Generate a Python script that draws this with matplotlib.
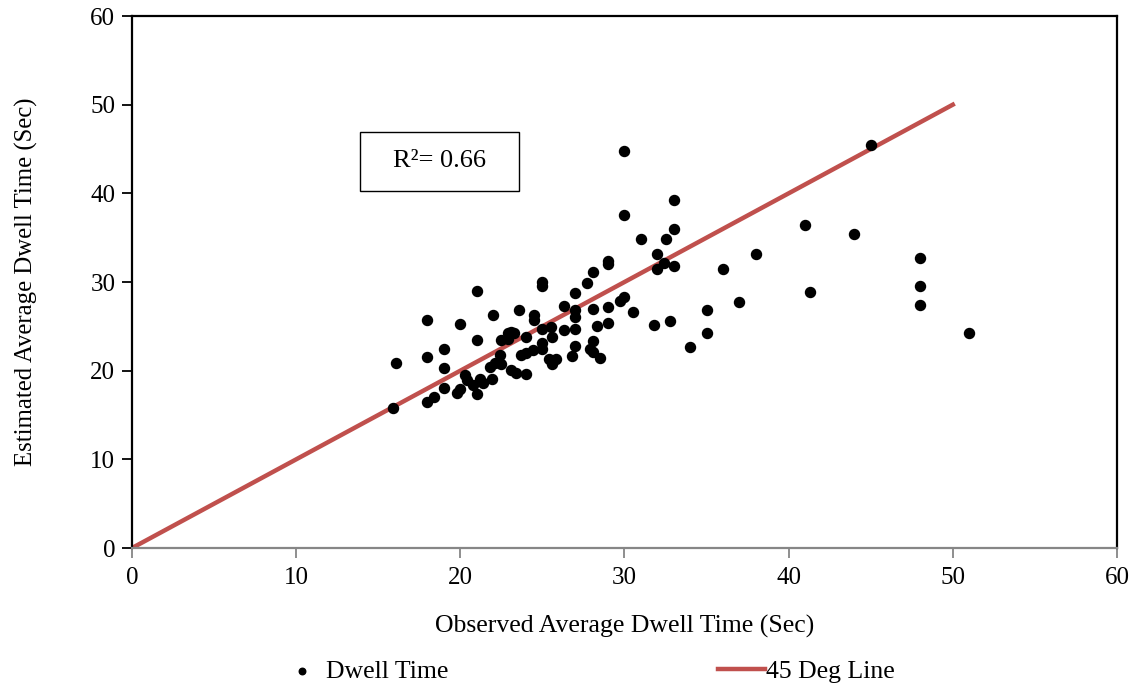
import numpy as np
import matplotlib.pyplot as plt
from matplotlib.patches import Rectangle

plt.rcParams['font.family'] = ['Liberation Serif', 'DejaVu Serif']

# Observed vs estimated average dwell time (sec)
observed = [15.9, 16.1, 18.0, 18.0, 18.0, 18.4, 19.0, 19.0, 19.0, 19.8,
            20.0, 20.0, 20.3, 20.4, 20.8, 21.0, 21.0, 21.0, 21.2, 21.4,
            21.8, 21.9, 22.0, 22.1, 22.4, 22.5, 22.9, 22.9, 23.1, 23.3,
            22.5, 23.1, 23.4, 23.6, 23.7, 24.0, 24.0, 24.0, 24.4, 24.5,
            24.5, 25.0, 25.0, 25.0, 25.0, 25.0, 25.4, 25.5, 25.6, 25.6,
            25.8, 26.3, 26.3, 26.8, 27.0, 27.0, 27.0, 27.0, 27.0, 27.7,
            27.9, 28.1, 28.1, 28.1, 28.1, 28.3, 28.5, 29.0, 29.0, 29.0,
            29.0, 29.7, 30.0, 30.0, 30.0, 30.5, 31.0, 31.8, 32.0, 32.0,
            32.4, 32.5, 32.8, 33.0, 33.0, 33.0, 34.0, 35.0, 35.0, 36.0,
            37.0, 38.0, 41.0, 41.3, 44.0, 45.0, 48.0, 48.0, 48.0, 51.0]
estimated = [15.8, 20.9, 25.7, 21.5, 16.5, 17.0, 22.4, 20.3, 18.0, 17.5,
             17.9, 25.3, 19.5, 18.9, 18.4, 29.0, 23.5, 17.4, 19.1, 18.6,
             20.4, 19.1, 26.3, 20.9, 21.8, 23.5, 24.2, 23.6, 24.4, 24.2,
             20.8, 20.1, 19.7, 26.8, 21.8, 23.8, 22.0, 19.6, 22.3, 26.3,
             25.7, 30.0, 29.6, 24.7, 23.1, 22.5, 21.3, 24.9, 23.8, 20.8,
             21.3, 27.3, 24.6, 21.7, 28.8, 26.8, 26.1, 24.7, 22.8, 29.9,
             22.4, 31.1, 27.0, 23.4, 22.1, 25.0, 21.4, 32.4, 32.0, 27.2,
             25.4, 27.9, 28.3, 37.6, 44.8, 26.6, 34.8, 25.1, 33.2, 31.5,
             32.2, 34.8, 25.6, 39.2, 36.0, 31.8, 22.7, 26.9, 24.2, 31.5,
             27.8, 33.2, 36.4, 28.9, 35.4, 45.4, 32.7, 29.5, 27.4, 24.2]

line_x = [0, 50]
line_y = [0, 50]
r_squared = 0.66

fig = plt.figure(figsize=(11.38, 6.87), dpi=100)
ax = fig.add_axes([0.116, 0.2023, 0.8655, 0.7744])

ax.scatter(observed, estimated, s=52, color='black', zorder=3, label='Dwell Time')
ax.plot(line_x, line_y, color='#C0504D', lw=3.2, zorder=2, label='45 Deg Line')

ax.set_xlim(0, 60)
ax.set_ylim(0, 60)
ax.set_xticks(np.arange(0, 61, 10))
ax.set_yticks(np.arange(0, 61, 10))

for side in ['left', 'top', 'right']:
    ax.spines[side].set_color('black')
    ax.spines[side].set_linewidth(1.6)
ax.spines['bottom'].set_color('#868686')
ax.spines['bottom'].set_linewidth(1.6)

ax.tick_params(axis='y', direction='out', length=7, width=1.3, color='black',
               labelsize=18, pad=5)
ax.tick_params(axis='x', direction='out', length=7, width=1.3, color='#868686',
               labelsize=18, pad=7)

ax.set_xlabel('Observed Average Dwell Time (Sec)', fontsize=18.5, labelpad=18)
ax.set_ylabel('Estimated Average Dwell Time (Sec)', fontsize=17.8, labelpad=38)

# R-squared box
ax.add_patch(Rectangle((0.2315, 0.671), 0.1615, 0.111, transform=ax.transAxes,
                       fc='white', ec='black', lw=1.0, zorder=4))
ax.text(0.312, 0.728, 'R\u00b2= %.2f' % r_squared, transform=ax.transAxes,
        fontsize=19, ha='center', va='center', zorder=5)

leg = fig.legend(loc='center', bbox_to_anchor=(0.5155, 0.023), ncol=2,
                 frameon=False, fontsize=18.5, handlelength=1.8,
                 handletextpad=0.05, columnspacing=10.5, markerscale=0.65)

fig.savefig('out.png', dpi=100)
